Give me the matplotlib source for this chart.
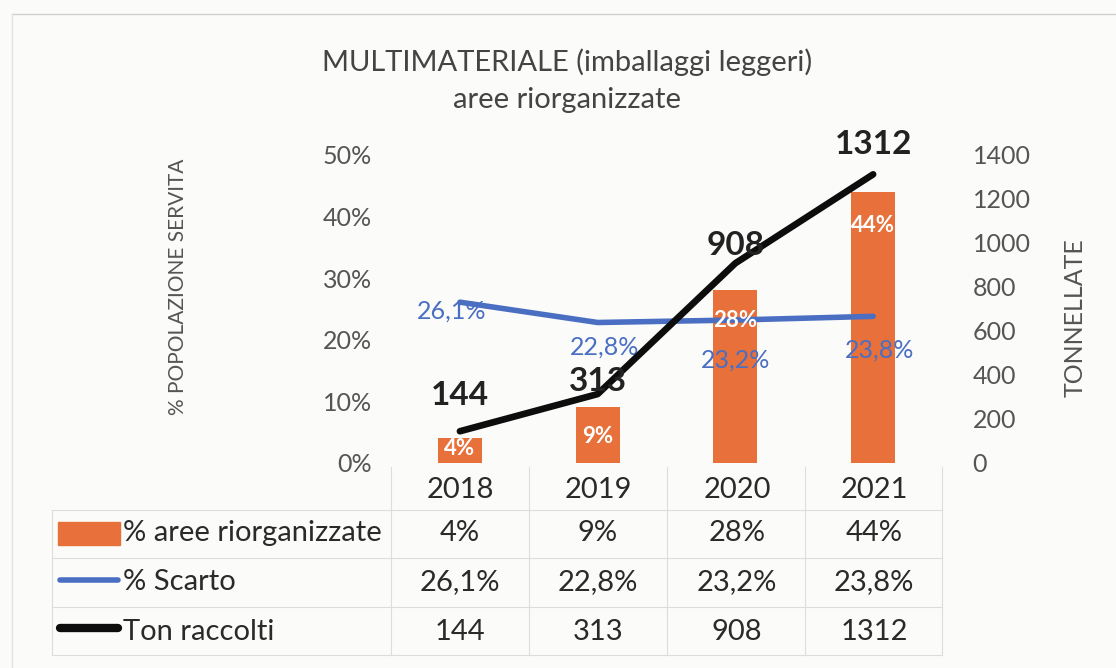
# MULTIMATERIALE chart - bars + two lines + data table underneath

import matplotlib
matplotlib.use("Agg")
import matplotlib.pyplot as plt
from matplotlib.lines import Line2D
from matplotlib.patches import Rectangle

anni = ["2018", "2019", "2020", "2021"]
aree = [4, 9, 28, 44]            # % aree riorganizzate (left axis)
scarto = [26.1, 22.8, 23.2, 23.8]  # % scarto (left axis)
ton = [144, 313, 908, 1312]       # tonnellate raccolte (right axis)

aree_lbl = ["4%", "9%", "28%", "44%"]
scarto_lbl = ["26,1%", "22,8%", "23,2%", "23,8%"]
ton_lbl = [str(t) for t in ton]

serie = ["% aree riorganizzate", "% Scarto", "Ton raccolti"]

ORANGE = "#E8703A"
BLUE = "#4A6FC2"
BLACK = "#0d0d0d"
GREY = "#555555"

# Lato is the closest thing to Calibri we have
plt.rcParams["font.family"] = ["Lato", "DejaVu Sans"]

fig = plt.figure(figsize=(11.16, 6.68), dpi=100, facecolor="#fbfbfa")
ax = fig.add_axes([0.3504, 0.307, 0.4937, 0.461])
ax.set_facecolor("none")
ax2 = ax.twinx()

x = list(range(len(anni)))

ax.bar(x, aree, width=0.32, color=ORANGE, zorder=2)
ax.plot(x, scarto, color=BLUE, lw=4, solid_capstyle="round", zorder=3)
ax2.plot(x, ton, color=BLACK, lw=4.8, solid_capstyle="round", zorder=4)

ax.set_xlim(-0.5, 3.5)
ax.set_ylim(0, 50)
ax2.set_ylim(0, 1400)
ax.set_yticks(range(0, 51, 10))
ax.set_yticklabels([f"{v}%" for v in range(0, 51, 10)])
ax2.set_yticks(range(0, 1401, 200))
ax.set_xticks([])

for a in (ax, ax2):
    for s in a.spines.values():
        s.set_visible(False)
    a.tick_params(length=0, labelsize=18, colors=GREY)
ax.tick_params(pad=14)
ax2.tick_params(pad=22)

fig.text(178 / 1116, 1 - 287 / 668, "% POPOLAZIONE SERVITA", rotation=90,
         ha="center", va="center", fontsize=15, color=GREY)
fig.text(1075 / 1116, 1 - 318 / 668, "TONNELLATE", rotation=90,
         ha="center", va="center", fontsize=18, color=GREY)

# bar labels (white, inside top)
bar_off = [1.6, 4.7, 4.9, 5.5]
for xi, v, l, d in zip(x, aree, aree_lbl, bar_off):
    ax.text(xi, v - d, l, ha="center", va="center", color="white",
            fontsize=16, fontweight="bold", zorder=5)

# scarto labels
scarto_off = [(-0.06, -1.5), (0.05, -4.0), (0.0, -6.5), (0.05, -5.5)]
for xi, v, l, (dx, dy) in zip(x, scarto, scarto_lbl, scarto_off):
    ax.text(xi + dx, v + dy, l, ha="center", va="center", color=BLUE,
            fontsize=18, zorder=5)

# ton labels
ton_off = [95, -8, 16, 69]
for xi, v, l, dy in zip(x, ton, ton_lbl, ton_off):
    ax2.text(xi, v + dy, l, ha="center", va="bottom", color="#222222",
             fontsize=24, fontweight="bold", zorder=6)

# title
fig.text(0.508, 1 - 62 / 668, "MULTIMATERIALE (imballaggi leggeri)", ha="center",
         va="center", fontsize=21, color="#444444")
fig.text(0.508, 1 - 100 / 668, "aree riorganizzate", ha="center", va="center",
         fontsize=21, color="#444444")

# data table under the plot
W, H = 1116.0, 668.0
col_x = [460, 598, 737, 874]
row_y = [490, 533, 582, 632]
vlines = [391, 529, 667, 805, 942]
hlines = [510, 558, 607, 655]
for vx in vlines:
    fig.add_artist(Line2D([vx / W, vx / W], [1 - 467 / H, 1 - 655 / H],
                          color="#dddddd", lw=0.8))
fig.add_artist(Line2D([52 / W, 52 / W], [1 - 510 / H, 1 - 655 / H],
                      color="#dddddd", lw=0.8))
for hy in hlines:
    fig.add_artist(Line2D([52 / W, 942 / W], [1 - hy / H, 1 - hy / H],
                          color="#dddddd", lw=0.8))

for cx, a in zip(col_x, anni):
    fig.text(cx / W, 1 - row_y[0] / H, a, ha="center", va="center",
             fontsize=21, color="#2a2a2a")

rows = [aree_lbl, scarto_lbl, ton_lbl]
for ry, name, vals in zip(row_y[1:], serie, rows):
    fig.text(123 / W, 1 - ry / H, name, ha="left", va="center",
             fontsize=21, color="#2a2a2a")
    for cx, v in zip(col_x, vals):
        fig.text(cx / W, 1 - ry / H, v, ha="center", va="center",
                 fontsize=21, color="#2a2a2a")

# legend keys in the row labels
fig.add_artist(Rectangle((58 / W, 1 - 545 / H), 62 / W, 23 / H,
                         color=ORANGE, transform=fig.transFigure))
fig.add_artist(Line2D([60 / W, 118 / W], [1 - 580 / H, 1 - 580 / H],
                      color=BLUE, lw=4, solid_capstyle="round"))
fig.add_artist(Line2D([60 / W, 118 / W], [1 - 628 / H, 1 - 628 / H],
                      color=BLACK, lw=6, solid_capstyle="round"))

# faint page border
fig.add_artist(Line2D([12 / W, 1.0], [1 - 14 / H, 1 - 14 / H],
                      color="#cfcfcf", lw=1))
fig.add_artist(Line2D([12 / W, 12 / W], [0.0, 1 - 14 / H],
                      color="#e2e2e2", lw=1))

fig.savefig("out.png", dpi=100, facecolor=fig.get_facecolor())
